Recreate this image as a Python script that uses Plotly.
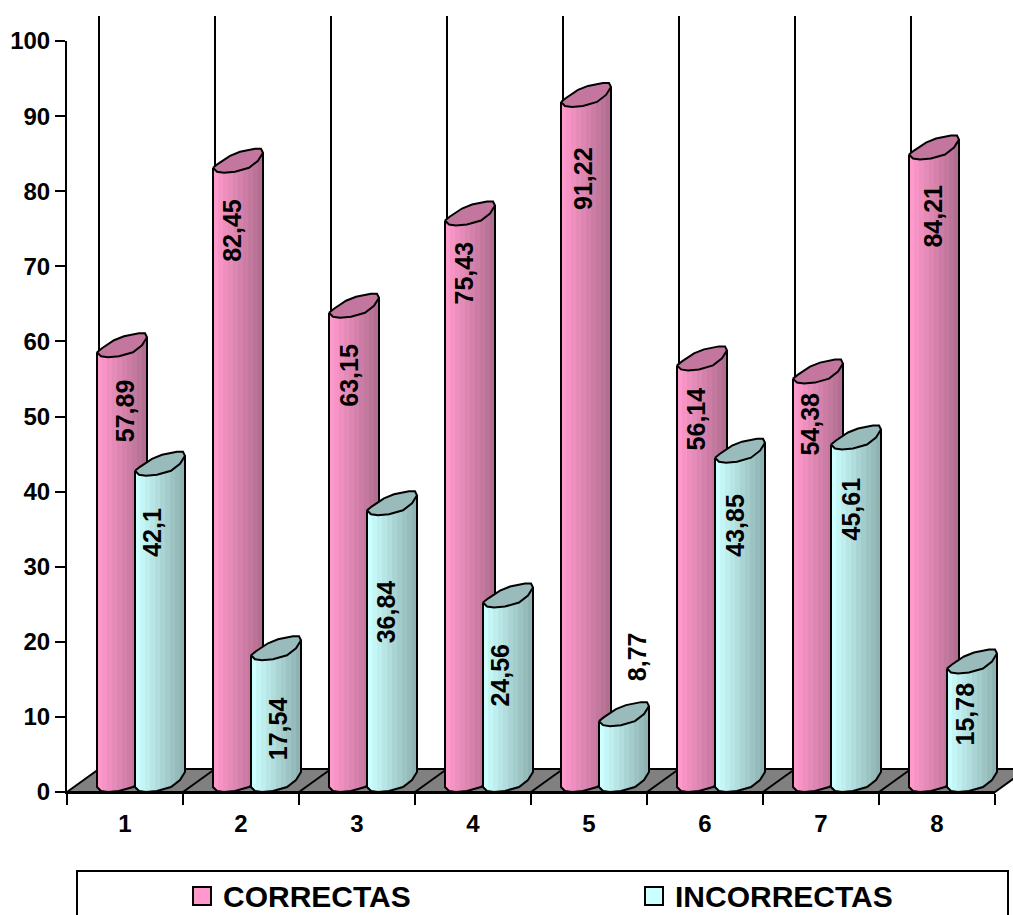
import plotly.graph_objects as go

# Exam results per question, in percent
categories = [1, 2, 3, 4, 5, 6, 7, 8]
correctas = [57.89, 82.45, 63.15, 75.43, 91.22, 56.14, 54.38, 84.21]
incorrectas = [42.1, 17.54, 36.84, 24.56, 8.77, 43.85, 45.61, 15.78]
series_names = ["CORRECTAS", "INCORRECTAS"]
y_ticks = list(range(0, 101, 10))

# Value-label placement: distance below the bar top (px) and from the bar's left edge (px)
correctas_label_drop = [54, 58, 58, 48, 72, 49, 41, 57]
correctas_label_dx = [28, 19, 20, 19, 22, 19, 17, 24]
incorrectas_label_drop = [57, 69, 97, 68, -69, 63, 60, 41]
incorrectas_label_dx = [17, 27, 19, 17, 38, 20, 20, 18]

# Plot geometry in pixels
W, H = 1013, 915
LEFT, RIGHT, TOP, BOTTOM = 67, 995, 41, 792
PX_PER_CAT = (RIGHT - LEFT) / len(categories)
PX_PER_VAL = (BOTTOM - TOP) / 100
DEPTH_X, DEPTH_Y = 32, 23
WALL_TOP = 16
BAR_W = 50
FONT = "Liberation Sans, Arial, sans-serif"


def cat_x(i, dx=0):
    """Data x for a pixel offset dx from the left boundary of category i."""
    return i + 0.5 + dx / PX_PER_CAT


def val_y(v, up=0):
    """Data y for a value lifted by `up` pixels."""
    return v + up / PX_PER_VAL


# Slanted section of a cylinder: (px across the bar, px above the value level)
FRONT = [(0, 5), (4, 1), (11, 0), (22, 1), (36, 5), (45, 12), (50, 20)]
BACK = [(50, 20), (48, 24), (42, 24), (27, 21), (17, 17), (5, 9), (0, 5)]


def front_at(dx):
    for (x0, y0), (x1, y1) in zip(FRONT, FRONT[1:]):
        if x0 <= dx <= x1:
            return y0 + (y1 - y0) * (dx - x0) / (x1 - x0)
    return FRONT[-1][1]


def blend(c0, c1, t):
    return "rgb({},{},{})".format(*[round(a + (b - a) * t) for a, b in zip(c0, c1)])


fig = go.Figure()

# Front edge of the floor on the visible axes, which keeps that subplot drawn
fig.add_trace(go.Scatter(x=[0.5, 8.5], y=[0, 0], mode="lines", hoverinfo="skip", showlegend=False,
                         line=dict(color="black", width=2)))


def add_path(xs, ys, fill=None, line=None, width=2):
    fig.add_trace(go.Scatter(
        x=xs, y=ys, xaxis="x2", yaxis="y2", mode="lines", hoverinfo="skip", showlegend=False,
        fill="toself" if fill else "none", fillcolor=fill,
        line=dict(color=line or "rgba(0,0,0,0)", width=width if line else 0, simplify=False),
    ))


# Back-wall rules rising from the floor
n = len(categories)
for i in range(n):
    add_path([cat_x(i, DEPTH_X)] * 2, [val_y(0, DEPTH_Y), val_y(0, BOTTOM - WALL_TOP)], line="black", width=2)

# Grey floor with its slanted dividers
add_path([cat_x(0), cat_x(0, DEPTH_X), cat_x(n, DEPTH_X), cat_x(n), cat_x(0)],
         [0, val_y(0, DEPTH_Y), val_y(0, DEPTH_Y), 0, 0], fill="#808080", line="black")
for i in range(1, n):
    add_path([cat_x(i), cat_x(i, DEPTH_X)], [0, val_y(0, DEPTH_Y)], line="black")


def add_cylinders(values, start_dx, light, dark, cap):
    strips = 10
    edges = [BAR_W * k / strips for k in range(strips + 1)]
    for s in range(strips):
        xs, ys = [], []
        a, b = edges[s], edges[s + 1]
        for i, v in enumerate(values):
            l = start_dx
            xs += [cat_x(i, l + a), cat_x(i, l + b), cat_x(i, l + b), cat_x(i, l + a), cat_x(i, l + a), None]
            ys += [val_y(0, front_at(a)), val_y(0, front_at(b)),
                   val_y(v, front_at(b)), val_y(v, front_at(a)), val_y(0, front_at(a)), None]
        add_path(xs, ys, fill=blend(light, dark, s / (strips - 1)))

    # Body outline and the elliptical cap
    ox, oy, cx, cy = [], [], [], []
    for i, v in enumerate(values):
        ox += [cat_x(i, start_dx)] + [cat_x(i, start_dx + x) for x, _ in FRONT] + [cat_x(i, start_dx + BAR_W), None]
        oy += [val_y(v, FRONT[0][1])] + [val_y(0, y) for _, y in FRONT] + [val_y(v, FRONT[-1][1]), None]
        ring = FRONT + BACK[1:]
        cx += [cat_x(i, start_dx + x) for x, _ in ring] + [None]
        cy += [val_y(v, y) for _, y in ring] + [None]
    add_path(ox, oy, line="black")
    add_path(cx, cy, fill=cap, line="black")


add_cylinders(correctas, 30, (255, 153, 204), (178, 110, 145), "#C4779E")
add_cylinders(incorrectas, 68, (204, 255, 255), (143, 178, 178), "#99BBBB")

# Values written along the bars
annotations = []
for values, drops, dxs, start in [
    (correctas, correctas_label_drop, correctas_label_dx, 30),
    (incorrectas, incorrectas_label_drop, incorrectas_label_dx, 68),
]:
    for i, v in enumerate(values):
        label = f"{v:g}".replace(".", ",")
        annotations.append(dict(
            x=cat_x(i, start + dxs[i]), y=val_y(v, -drops[i]), xref="x2", yref="y2",
            text=f"<b>{label}</b>", textangle=-90, showarrow=False,
            font=dict(family=FONT, size=25, color="black"),
        ))


def px(x):
    return x / W


def py(y):
    return 1 - y / H


# Legend panel, running off the bottom of the page
shapes = [dict(type="rect", xref="paper", yref="paper", x0=px(77), x1=px(1008), y0=py(935), y1=py(871),
               line=dict(color="black", width=2), fillcolor="white")]
for name, swatch_x, color in [(series_names[0], 193, "#FF99CC"), (series_names[1], 645, "#CCFFFF")]:
    shapes.append(dict(type="rect", xref="paper", yref="paper", x0=px(swatch_x), x1=px(swatch_x + 18),
                       y0=py(905), y1=py(887), line=dict(color="black", width=2), fillcolor=color))
    annotations.append(dict(
        x=px(swatch_x + 28), y=py(896), xref="paper", yref="paper", xanchor="left", yanchor="middle",
        text=f"<b>{name}</b>", showarrow=False,
        font=dict(family=FONT, size=30, color="black"),
    ))

tick_font = dict(family=FONT, size=24, color="black", weight="bold")

fig.update_layout(
    width=W, height=H, autosize=False, showlegend=False,
    margin=dict(l=0, r=0, t=0, b=0, pad=0, autoexpand=False),
    paper_bgcolor="white", plot_bgcolor="rgba(0,0,0,0)",
    annotations=annotations, shapes=shapes,
    # Visible axes span only the front plane of the chart
    xaxis=dict(domain=[LEFT / W, RIGHT / W], anchor="y", range=[0.5, 8.5], automargin=False,
               tickvals=categories, ticktext=[str(c) for c in categories],
               ticks="", showgrid=False, zeroline=False, showline=True, linecolor="black", linewidth=2,
               tickfont=tick_font, ticklabelstandoff=9,
               minor=dict(tickvals=[k + 0.5 for k in range(0, 9)], ticks="outside", ticklen=11,
                          tickwidth=2, tickcolor="black", showgrid=False)),
    yaxis=dict(domain=[1 - BOTTOM / H, 1 - TOP / H], anchor="x", range=[0, 100], automargin=False,
               tickvals=y_ticks, ticks="outside", ticklen=10, tickwidth=2, tickcolor="black",
               showgrid=False, zeroline=False, showline=True, linecolor="black", linewidth=2,
               tickfont=tick_font),
    # Hidden full-page axes on the same scale so the 3D marks can leave the front plane
    xaxis2=dict(domain=[0, 1], anchor="y2", visible=False, automargin=False,
                range=[0.5 - LEFT / PX_PER_CAT, 0.5 + (W - LEFT) / PX_PER_CAT]),
    yaxis2=dict(domain=[0, 1], anchor="x2", visible=False, automargin=False,
                range=[-(H - BOTTOM) / PX_PER_VAL, BOTTOM / PX_PER_VAL]),
)

fig.write_html("out.html", config={"displayModeBar": False})
